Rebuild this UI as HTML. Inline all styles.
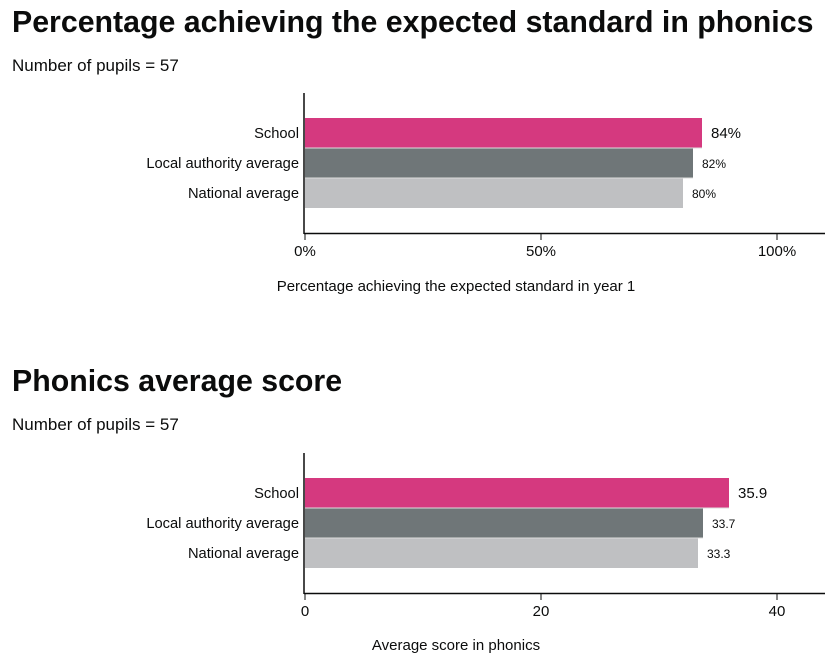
<!DOCTYPE html>
<html><head><style>
body{margin:0;background:#fff;width:840px;height:663px;overflow:hidden;font-family:"Liberation Sans",Arial,sans-serif;}
</style></head><body>
<svg width="840" height="663" xmlns="http://www.w3.org/2000/svg" font-family="Liberation Sans, Arial, sans-serif">
<text x="12" y="32" font-size="30.3" font-weight="bold" fill="#0b0c0c">Percentage achieving the expected standard in phonics</text>
<text x="12" y="71" font-size="17" fill="#0b0c0c">Number of pupils = 57</text>
<g>
<rect x="305" y="118" width="397" height="30" fill="#d5397f"/>
<rect x="305" y="148" width="388" height="30" fill="#6f7678"/>
<rect x="305" y="178" width="378" height="30" fill="#bfc0c2"/>
<line x1="305" y1="148" x2="702" y2="148" stroke="#ddd" stroke-width="1"/>
<line x1="305" y1="178" x2="693" y2="178" stroke="#ddd" stroke-width="1"/>
<line x1="304" y1="93" x2="304" y2="234" stroke="#0b0c0c" stroke-width="1.5"/>
<line x1="304" y1="233.5" x2="825" y2="233.5" stroke="#0b0c0c" stroke-width="1.5"/>
<line x1="305" y1="233" x2="305" y2="240" stroke="#0b0c0c"/>
<line x1="541" y1="233" x2="541" y2="240" stroke="#0b0c0c"/>
<line x1="777" y1="233" x2="777" y2="240" stroke="#0b0c0c"/>
<g font-size="14.7" fill="#0b0c0c" text-anchor="end">
<text x="299" y="138">School</text>
<text x="299" y="168">Local authority average</text>
<text x="299" y="198">National average</text>
</g>
<text x="711" y="138" font-size="15" fill="#0b0c0c">84%</text>
<text x="702" y="168" font-size="12" fill="#0b0c0c">82%</text>
<text x="692" y="198" font-size="12" fill="#0b0c0c">80%</text>
<g font-size="15" fill="#0b0c0c" text-anchor="middle">
<text x="305" y="256">0%</text><text x="541" y="256">50%</text><text x="777" y="256">100%</text>
</g>
<text x="456" y="291" font-size="15" fill="#0b0c0c" text-anchor="middle">Percentage achieving the expected standard in year 1</text>
</g>
<text x="12" y="391" font-size="30.3" font-weight="bold" fill="#0b0c0c">Phonics average score</text>
<text x="12" y="430" font-size="17" fill="#0b0c0c">Number of pupils = 57</text>
<g>
<rect x="305" y="478" width="424" height="30" fill="#d5397f"/>
<rect x="305" y="508" width="398" height="30" fill="#6f7678"/>
<rect x="305" y="538" width="393" height="30" fill="#bfc0c2"/>
<line x1="305" y1="508" x2="729" y2="508" stroke="#ddd" stroke-width="1"/>
<line x1="305" y1="538" x2="703" y2="538" stroke="#ddd" stroke-width="1"/>
<line x1="304" y1="453" x2="304" y2="594" stroke="#0b0c0c" stroke-width="1.5"/>
<line x1="304" y1="593.5" x2="825" y2="593.5" stroke="#0b0c0c" stroke-width="1.5"/>
<line x1="305" y1="593" x2="305" y2="600" stroke="#0b0c0c"/>
<line x1="541" y1="593" x2="541" y2="600" stroke="#0b0c0c"/>
<line x1="777" y1="593" x2="777" y2="600" stroke="#0b0c0c"/>
<g font-size="14.7" fill="#0b0c0c" text-anchor="end">
<text x="299" y="498">School</text>
<text x="299" y="528">Local authority average</text>
<text x="299" y="558">National average</text>
</g>
<text x="738" y="498" font-size="15" fill="#0b0c0c">35.9</text>
<text x="712" y="528" font-size="12" fill="#0b0c0c">33.7</text>
<text x="707" y="558" font-size="12" fill="#0b0c0c">33.3</text>
<g font-size="15" fill="#0b0c0c" text-anchor="middle">
<text x="305" y="616">0</text><text x="541" y="616">20</text><text x="777" y="616">40</text>
</g>
<text x="456" y="650" font-size="15" fill="#0b0c0c" text-anchor="middle">Average score in phonics</text>
</g>
</svg>
</body></html>
